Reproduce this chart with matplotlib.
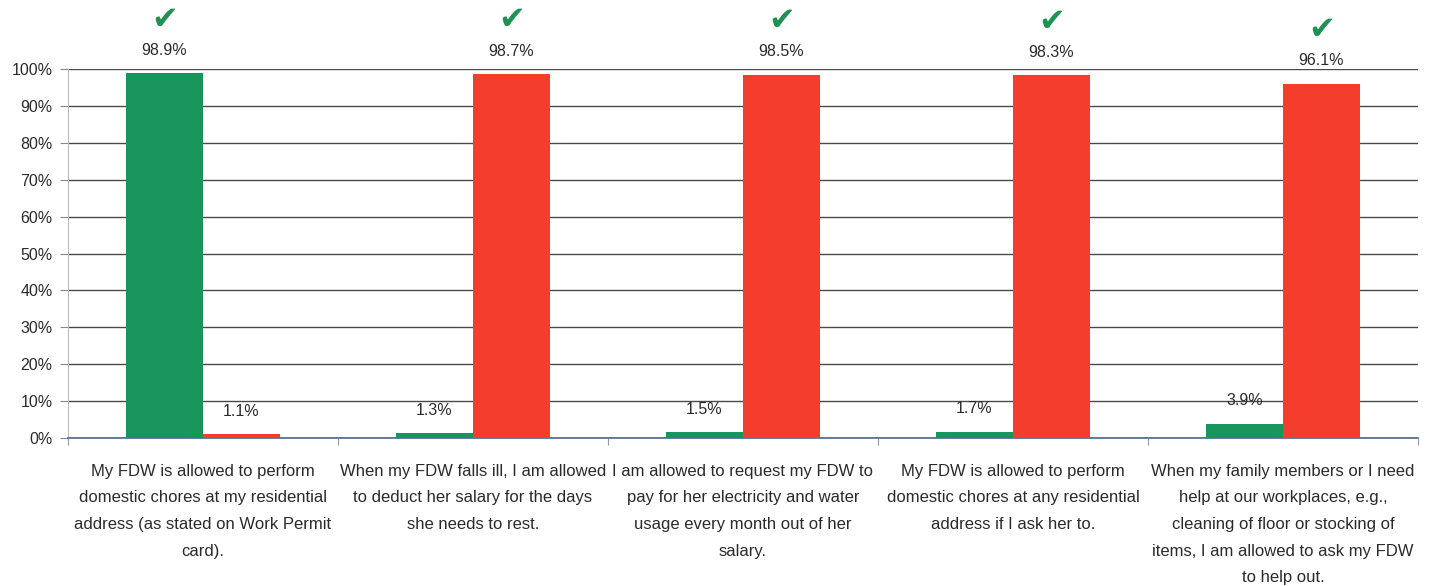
import matplotlib
matplotlib.use("Agg")
from matplotlib import pyplot as plt
import numpy as np

plt.rcParams['font.family'] = ['Liberation Sans', 'DejaVu Sans']

# survey statements (x axis labels)
statements = [
    "My FDW is allowed to perform\ndomestic chores at my residential\naddress (as stated on Work Permit\ncard).",
    "When my FDW falls ill, I am allowed\nto deduct her salary for the days\nshe needs to rest.",
    "I am allowed to request my FDW to\npay for her electricity and water\nusage every month out of her\nsalary.",
    "My FDW is allowed to perform\ndomestic chores at any residential\naddress if I ask her to.",
    "When my family members or I need\nhelp at our workplaces, e.g.,\ncleaning of floor or stocking of\nitems, I am allowed to ask my FDW\nto help out.",
]
green_vals = [98.9, 1.3, 1.5, 1.7, 3.9]
red_vals = [1.1, 98.7, 98.5, 98.3, 96.1]
correct = ["green", "red", "red", "red", "red"]  # bar that gets the tick mark

green_col = '#17955a'
red_col = '#f43d2d'

fig = plt.figure(figsize=(14.34, 5.86), dpi=100)
ax = fig.add_axes([0.0474, 0.2526, 0.9414, 0.6294])

centers = np.arange(len(statements)) + 0.5
w = 0.285
g_bars = ax.bar(centers - w / 2, green_vals, w, color=green_col, zorder=3)
r_bars = ax.bar(centers + w / 2, red_vals, w, color=red_col, zorder=3)

# value labels + tick marks
for i in range(len(statements)):
    for bar, val, name in ((g_bars[i], green_vals[i], "green"), (r_bars[i], red_vals[i], "red")):
        x = bar.get_x() + bar.get_width() / 2
        ax.annotate(f"{val}%", (x, val), xytext=(0, 11), textcoords='offset points',
                    ha='center', va='bottom', fontsize=11.5, color='#2a2a2a', zorder=4,
                    annotation_clip=False)
        if correct[i] == name:
            ax.annotate("\u2714", (x, val), xytext=(0, 27), textcoords='offset points',
                        ha='center', va='bottom', fontsize=23, color='#1f9152',
                        family='DejaVu Sans', annotation_clip=False)

ax.set_xlim(0, 5)
ax.set_ylim(0, 100)
ax.set_yticks(np.arange(0, 101, 10))
ax.set_yticklabels([f"{t}%" for t in range(0, 101, 10)], fontsize=11.5, color='#2a2a2a')
ax.yaxis.grid(True, color='#4a4a4a', linewidth=1, zorder=0)
ax.tick_params(axis='y', length=6, color='#888888', pad=5)

ax.set_xticks(np.arange(0, 6))
ax.set_xticklabels([])
ax.tick_params(axis='x', length=5, color='#999999', direction='out')
for i, s in enumerate(statements):
    ax.text(centers[i], -7.0, s, ha='center', va='top', fontsize=12, color='#2a2a2a',
            linespacing=1.97, transform=ax.transData)

for side in ['top', 'right']:
    ax.spines[side].set_visible(False)
ax.spines['left'].set_color('#bbbbbb')
ax.spines['bottom'].set_color('#4a6a8a')
ax.spines['bottom'].set_linewidth(1.2)

fig.savefig("out.png", dpi=100)
